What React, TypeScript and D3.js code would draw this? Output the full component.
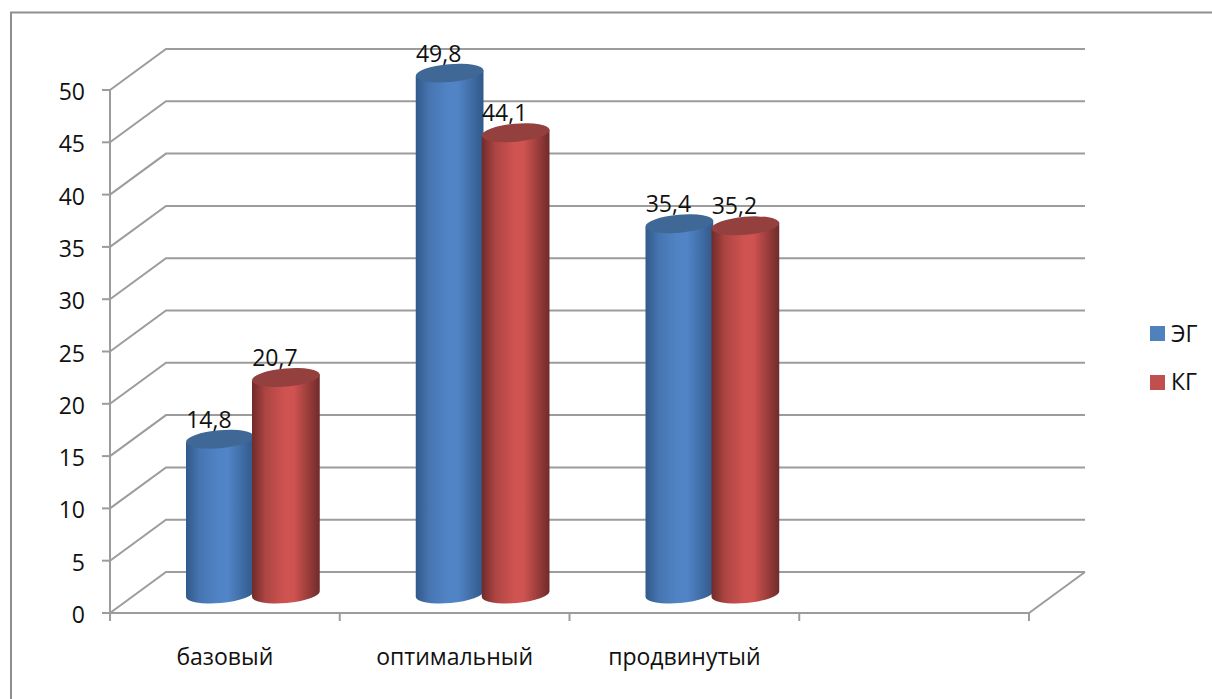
import React from "react";
import * as d3 from "d3";

const categories = ["базовый", "оптимальный", "продвинутый", ""];
const seriesNames = ["ЭГ", "КГ"];
const egValues = [14.8, 49.8, 35.4];
const kgValues = [20.7, 44.1, 35.2];
const yTicks = [0, 5, 10, 15, 20, 25, 30, 35, 40, 45, 50];

const FONT = "'Open Sans', 'Noto Sans', sans-serif";
const GRID = "#9c9c9c";
const TEXT = "#111";
const FONT_SIZE = 23;

const width = 1212;
const height = 699;
const depthX = 56;
const depthY = -41;

const x = d3.scaleBand<string>().domain(categories).range([110, 1029]).paddingInner(0).paddingOuter(0);
const y = d3.scaleLinear().domain([0, 50]).range([613, 90]);
// Cylinders stand halfway through the floor's depth.
const barX = (c: string) => (x(c) as number) + depthX / 2;
const barY = (v: number) => y(v) + depthY / 2 + 1.5;

const palette = [
  { edge: "#31598a", mid: "#5184c6", top: "#3f6897", key: "#4f81bd" },
  { edge: "#6f2b2a", mid: "#cf5350", top: "#94403f", key: "#c0504d" },
];

const RX = 34;
const RY = 9;
const TILT = -5;

function Cylinder({ cx, value, i }: { cx: number; value: number; i: number }) {
  const top = barY(value);
  const base = barY(0);
  const dy = RX * Math.sin((-TILT * Math.PI) / 180);
  const dx = RX * Math.cos((TILT * Math.PI) / 180);
  const body =
    `M${cx - dx},${top + dy} L${cx - dx},${base + dy} ` +
    `A${RX},${RY} ${TILT} 0 0 ${cx + dx},${base - dy} L${cx + dx},${top - dy} Z`;
  return (
    <g>
      <path d={body} fill={`url(#cyl${i})`} />
      <ellipse cx={cx} cy={top} rx={RX} ry={RY} transform={`rotate(${TILT} ${cx} ${top})`} fill={palette[i].top} />
    </g>
  );
}

export default function App() {
  const bandW = x.bandwidth();
  const series = [egValues, kgValues];
  const shown = categories.slice(0, 3);
  const centre = (c: string, i: number) => barX(c) + bandW / 2 + (i === 0 ? -33 : 33);
  return (
    <svg
      width={width}
      height={height}
      style={{ position: "absolute", left: 0, top: 0, background: "#fff" }}
      fontFamily={FONT}
    >
      <defs>
        {palette.map((p, i) => (
          <linearGradient key={i} id={`cyl${i}`} x1="0" x2="1" y1="0" y2="0">
            <stop offset="0" stopColor={p.edge} />
            <stop offset="0.2" stopColor={d3.interpolateRgb(p.edge, p.mid)(0.65)} />
            <stop offset="0.48" stopColor={p.mid} />
            <stop offset="0.62" stopColor={p.mid} />
            <stop offset="1" stopColor={p.edge} />
          </linearGradient>
        ))}
      </defs>

      {/* chart frame, cut off by the page on the right and at the bottom */}
      <path d={`M11,${height} L11,12.5 L${width},12.5`} fill="none" stroke="#8f8f8f" strokeWidth={2} />

      {/* back wall and side wall grid */}
      {yTicks.map((t) => (
        <g key={t}>
          <path
            d={`M110,${y(t)} L${110 + depthX},${y(t) + depthY} L${1029 + depthX},${y(t) + depthY}`}
            fill="none"
            stroke={GRID}
            strokeWidth={2}
          />
          <line x1={102} x2={110} y1={y(t)} y2={y(t)} stroke={GRID} strokeWidth={2} />
          <text x={85} y={y(t) + 10} fontSize={FONT_SIZE} textAnchor="end" fill={TEXT}>
            {t}
          </text>
        </g>
      ))}

      {/* front axes */}
      <line x1={110} x2={110} y1={y(50)} y2={y(0)} stroke={GRID} strokeWidth={2} />
      <line x1={110} x2={1029} y1={y(0)} y2={y(0)} stroke={GRID} strokeWidth={2} />
      <line x1={1029} x2={1029 + depthX} y1={y(0)} y2={y(0) + depthY} stroke={GRID} strokeWidth={2} />
      {categories.map((c) => (
        <line key={`t${c}`} x1={x(c)} x2={x(c)} y1={y(0)} y2={y(0) + 8} stroke={GRID} strokeWidth={2} />
      ))}
      <line x1={1029} x2={1029} y1={y(0)} y2={y(0) + 8} stroke={GRID} strokeWidth={2} />

      {categories.map((c) => (
        <text key={`c${c}`} x={(x(c) as number) + bandW / 2} y={665} fontSize={FONT_SIZE} textAnchor="middle" fill={TEXT}>
          {c}
        </text>
      ))}

      {/* cylinders: each group's second series overlaps the first */}
      {shown.map((c, k) =>
        series.map((vals, i) => <Cylinder key={`${c}${i}`} cx={centre(c, i)} value={vals[k]} i={i} />)
      )}

      {/* value labels sit over the tops of the cylinders */}
      {shown.map((c, k) =>
        series.map((vals, i) => (
          <text
            key={`v${c}${i}`}
            x={centre(c, i) - 11}
            y={barY(vals[k]) - 11.5}
            fontSize={FONT_SIZE}
            textAnchor="middle"
            fill={TEXT}
          >
            {vals[k].toFixed(1).replace(".", ",")}
          </text>
        ))
      )}

      {/* legend */}
      {seriesNames.map((s, i) => (
        <g key={s}>
          <rect x={1150} y={326 + i * 49} width={15} height={15} fill={palette[i].key} />
          <text x={1171} y={342 + i * 48} fontSize={FONT_SIZE} fill={TEXT}>
            {s}
          </text>
        </g>
      ))}
    </svg>
  );
}
